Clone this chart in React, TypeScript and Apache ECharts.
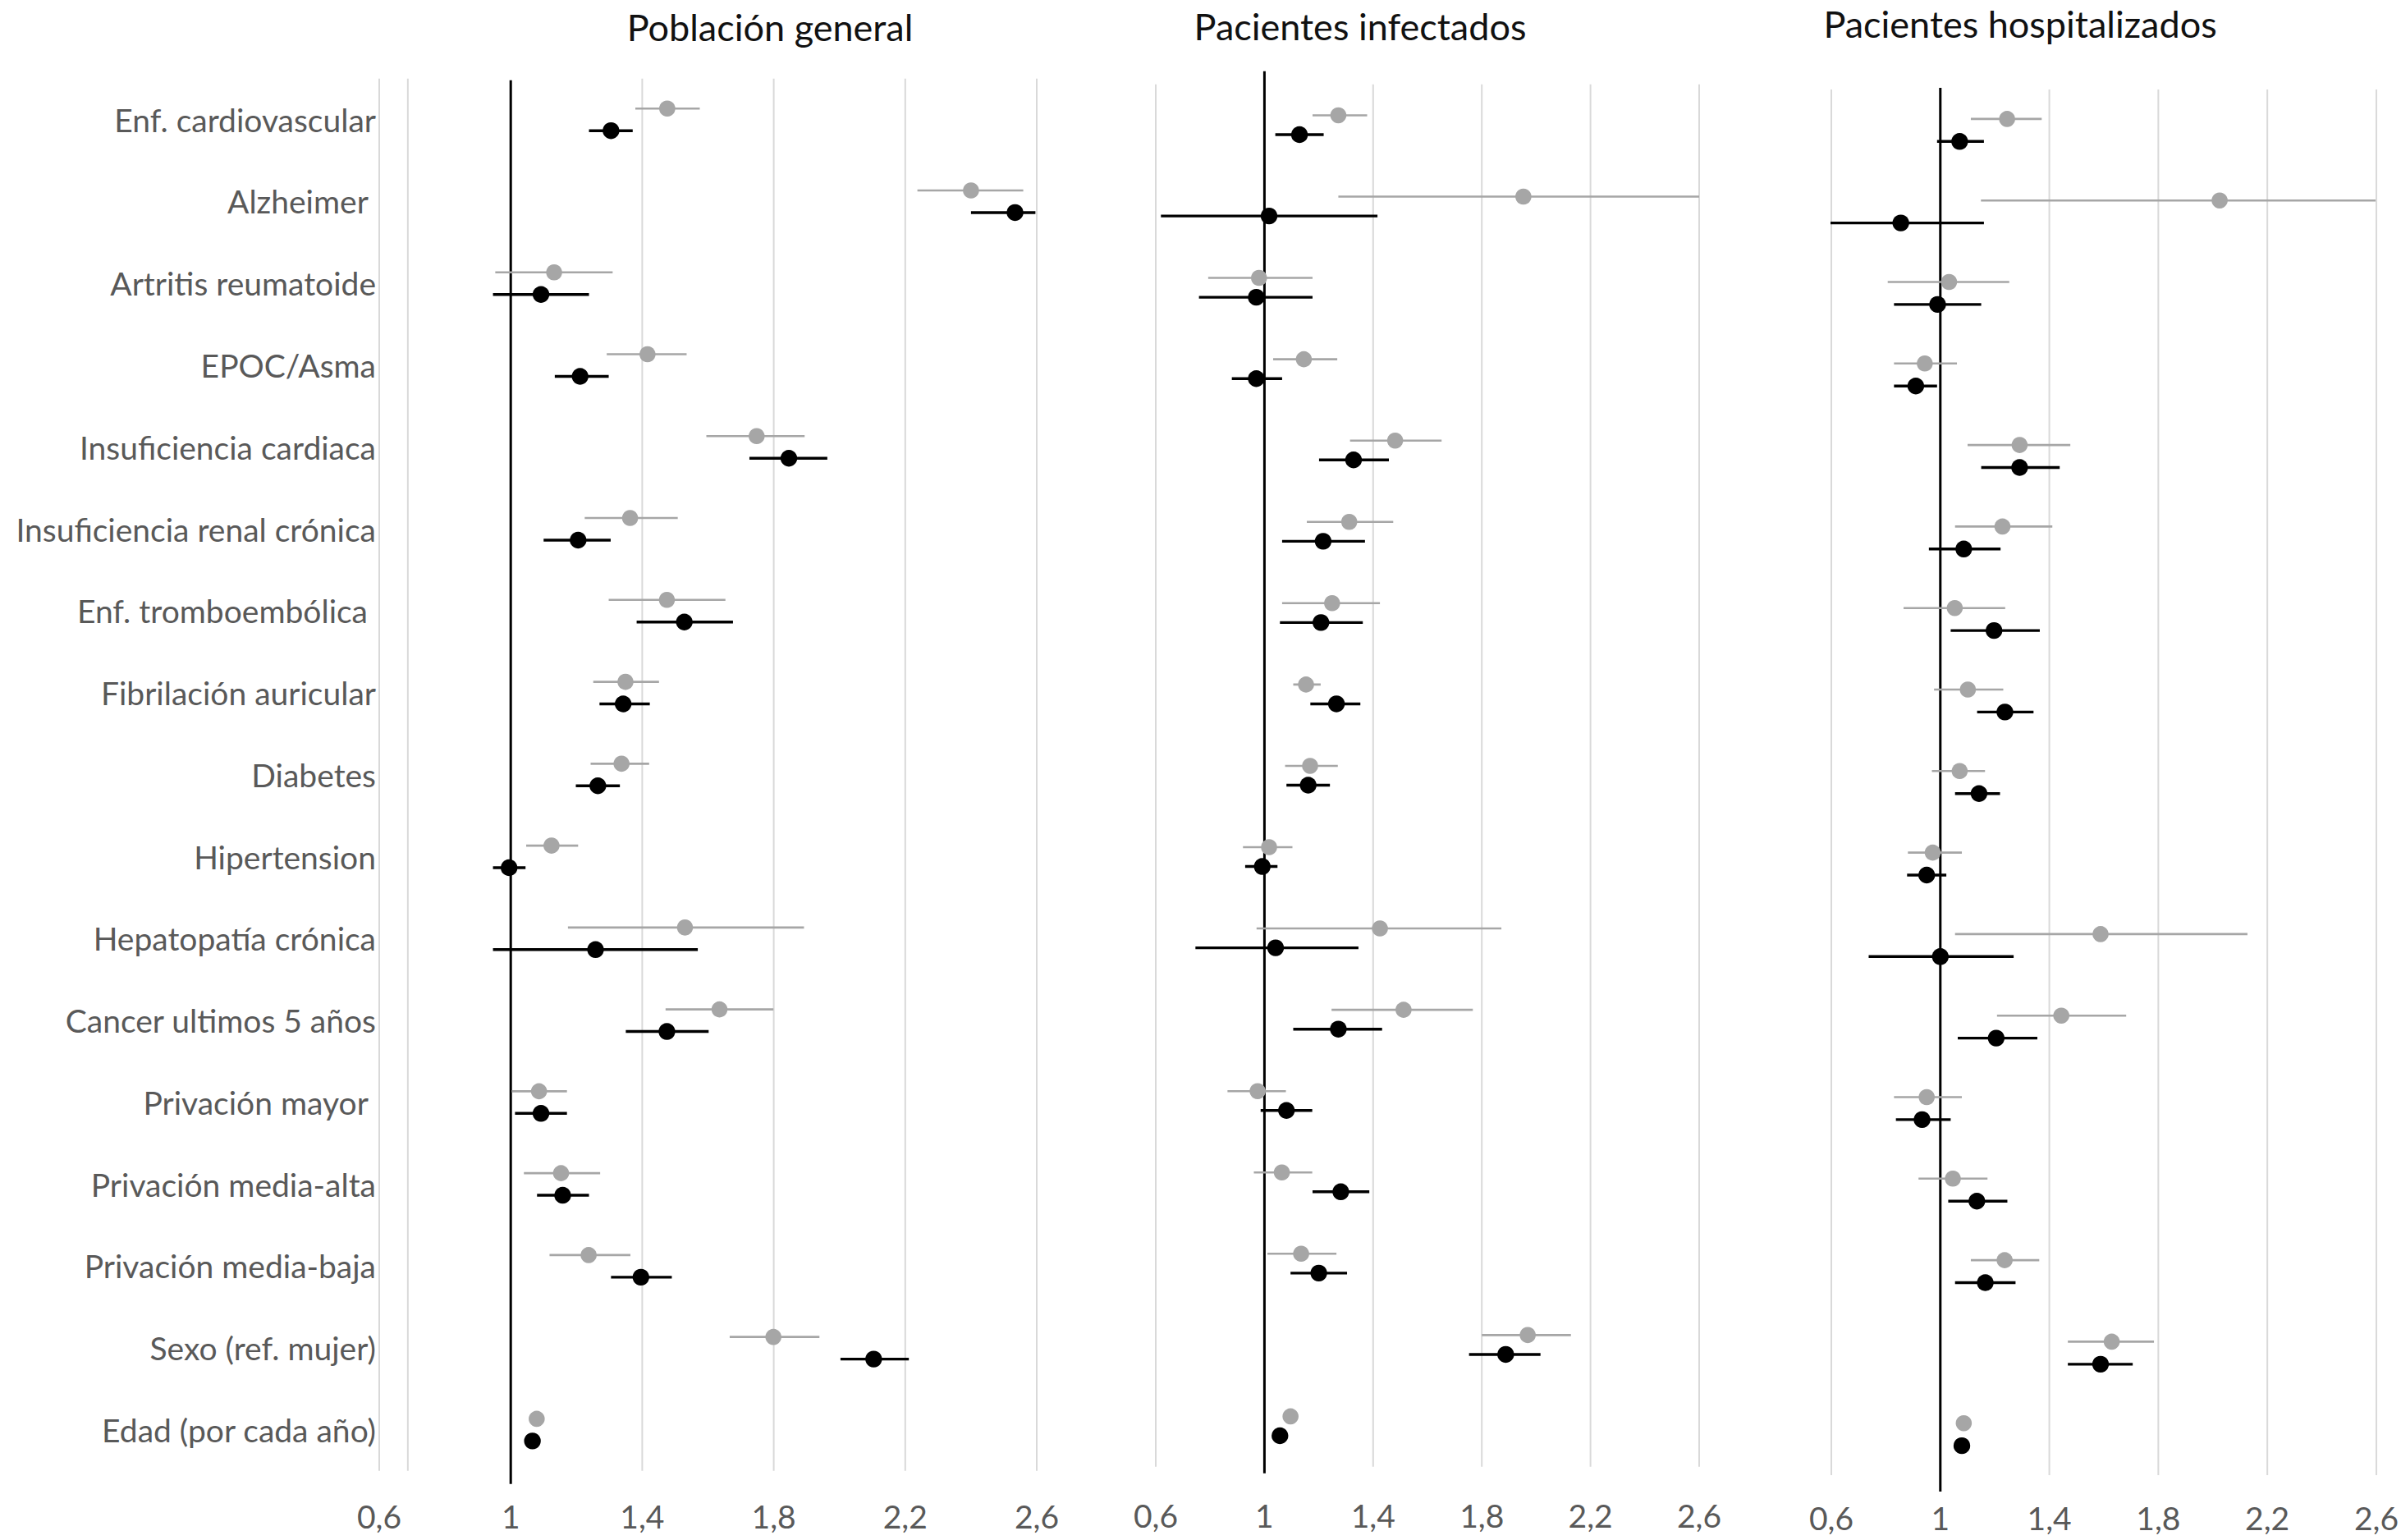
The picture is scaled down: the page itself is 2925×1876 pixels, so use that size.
import React, { useEffect, useRef } from "react";
import * as echarts from "echarts";

// ---------- DATA ----------
const categories = [
  "Enf. cardiovascular",
  "Alzheimer ",
  "Artritis reumatoide",
  "EPOC/Asma",
  "Insuficiencia cardiaca",
  "Insuficiencia renal crónica",
  "Enf. tromboembólica ",
  "Fibrilación auricular",
  "Diabetes",
  "Hipertension",
  "Hepatopatía crónica",
  "Cancer ultimos 5 años",
  "Privación mayor ",
  "Privación media-alta",
  "Privación media-baja",
  "Sexo (ref. mujer)",
  "Edad (por cada año)",
];

const panelTitles = ["Población general", "Pacientes infectados", "Pacientes hospitalizados"];
const xTicks = [0.6, 1, 1.4, 1.8, 2.2, 2.6];
const extraGridGeneral = [0.687];

// [estimate, lower, upper]
const generalGray = [
  [1.476, 1.379, 1.575], [2.4, 2.237, 2.559], [1.132, 0.953, 1.31], [1.416, 1.292, 1.535],
  [1.748, 1.595, 1.894], [1.363, 1.225, 1.508], [1.475, 1.298, 1.653], [1.349, 1.251, 1.451],
  [1.337, 1.243, 1.421], [1.124, 1.047, 1.205], [1.53, 1.174, 1.892], [1.635, 1.471, 1.799],
  [1.086, 1.003, 1.171], [1.153, 1.04, 1.272], [1.237, 1.118, 1.364], [1.799, 1.666, 1.939],
  [1.079, 1.072, 1.086],
];
const generalBlack = [
  [1.305, 1.238, 1.371], [2.534, 2.4, 2.596], [1.092, 0.946, 1.238], [1.211, 1.134, 1.298],
  [1.846, 1.726, 1.963], [1.205, 1.1, 1.304], [1.528, 1.383, 1.676], [1.342, 1.27, 1.423],
  [1.265, 1.198, 1.332], [0.995, 0.946, 1.045], [1.258, 0.946, 1.569], [1.475, 1.35, 1.602],
  [1.092, 1.013, 1.171], [1.158, 1.08, 1.238], [1.396, 1.305, 1.49], [2.104, 2.003, 2.211],
  [1.066, 1.06, 1.072],
];
const infectedGray = [
  [1.272, 1.177, 1.378], [1.953, 1.272, 2.6], [0.98, 0.793, 1.177], [1.145, 1.032, 1.268],
  [1.481, 1.315, 1.652], [1.312, 1.156, 1.474], [1.249, 1.065, 1.425], [1.153, 1.106, 1.207],
  [1.168, 1.076, 1.27], [1.017, 0.921, 1.103], [1.425, 0.971, 1.872], [1.512, 1.247, 1.767],
  [0.975, 0.864, 1.079], [1.064, 0.961, 1.176], [1.135, 1.011, 1.265], [1.969, 1.8, 2.128],
  [1.096, 1.09, 1.102],
];
const infectedBlack = [
  [1.129, 1.04, 1.218], [1.017, 0.619, 1.416], [0.97, 0.759, 1.177], [0.97, 0.88, 1.065],
  [1.328, 1.201, 1.458], [1.216, 1.065, 1.37], [1.208, 1.057, 1.362], [1.265, 1.169, 1.353],
  [1.161, 1.081, 1.241], [0.992, 0.929, 1.048], [1.041, 0.746, 1.346], [1.272, 1.106, 1.433],
  [1.081, 0.986, 1.176], [1.281, 1.177, 1.386], [1.2, 1.096, 1.304], [1.888, 1.753, 2.016],
  [1.057, 1.051, 1.063],
];
const hospitalGray = [
  [1.245, 1.112, 1.372], [2.025, 1.149, 2.597], [1.032, 0.807, 1.253], [0.943, 0.83, 1.061],
  [1.291, 1.1, 1.477], [1.228, 1.054, 1.411], [1.053, 0.865, 1.238], [1.101, 0.977, 1.231],
  [1.071, 0.969, 1.164], [0.972, 0.881, 1.079], [1.588, 1.054, 2.127], [1.444, 1.208, 1.682],
  [0.95, 0.83, 1.079], [1.046, 0.92, 1.173], [1.236, 1.112, 1.363], [1.629, 1.468, 1.784],
  [1.086, 1.08, 1.092],
];
const hospitalBlack = [
  [1.071, 0.988, 1.16], [0.855, 0.597, 1.16], [0.99, 0.83, 1.15], [0.91, 0.83, 0.988],
  [1.291, 1.15, 1.438], [1.086, 0.958, 1.221], [1.197, 1.038, 1.365], [1.237, 1.135, 1.342],
  [1.142, 1.054, 1.219], [0.95, 0.878, 1.022], [1.0, 0.737, 1.269], [1.205, 1.064, 1.356],
  [0.933, 0.837, 1.038], [1.134, 1.029, 1.246], [1.165, 1.054, 1.276], [1.588, 1.468, 1.706],
  [1.079, 1.073, 1.085],
];

// ---------- LAYOUT / STYLE ----------
const FONT = "Lato, 'Open Sans', sans-serif";
const GRAY = "#a6a6a6";
const BLACK = "#000000";
const GRIDLINE = "#d9d9d9";
const LABEL = "#595959";
const Y_MIN = -0.7;
const Y_MAX = 16.75;

const panels = [
  { left: 462, width: 801, top: 75.9, height: 1740.8, off: 0.135, labelMargin: 11, ref: [-0.48, 16.66], titleX: 938, titleY: 33,
    gray: generalGray, black: generalBlack, extra: extraGridGeneral },
  { left: 1408, width: 662, top: 82.9, height: 1728.6, off: 0.119, labelMargin: 15, ref: [-0.66, 16.58], titleX: 1657, titleY: 32,
    gray: infectedGray, black: infectedBlack, extra: [] as number[] },
  { left: 2231, width: 665, top: 89.1, height: 1732.8, off: 0.138, labelMargin: 8, ref: [-0.52, 16.7], titleX: 2461, titleY: 29,
    gray: hospitalGray, black: hospitalBlack, extra: [] as number[] },
];

function ciSeries(idx: number, rows: number[][], offset: number, color: string, lineWidth: number, r: number) {
  return {
    type: "custom",
    xAxisIndex: idx,
    yAxisIndex: idx,
    z: 5,
    silent: true,
    clip: false,
    encode: { x: [1, 2, 3], y: 0 },
    data: rows.map((d, i) => [i, d[0], d[1], d[2]]),
    renderItem: (_p: any, api: any) => {
      const y = api.value(0) + offset;
      const c = api.coord([api.value(1), y]);
      const l = api.coord([api.value(2), y]);
      const h = api.coord([api.value(3), y]);
      return {
        type: "group",
        children: [
          { type: "line", shape: { x1: l[0], y1: l[1], x2: h[0], y2: h[1] }, style: { stroke: color, lineWidth } },
          { type: "circle", shape: { cx: c[0], cy: c[1], r }, style: { fill: color } },
        ],
      };
    },
  };
}

function vLineSeries(idx: number, values: number[], y0: number, y1: number, color: string, lineWidth: number, z: number) {
  return {
    type: "custom",
    xAxisIndex: idx,
    yAxisIndex: idx,
    z,
    silent: true,
    clip: false,
    encode: { x: 0, y: 1 },
    data: values.map((v) => [v, y0]),
    renderItem: (_p: any, api: any) => {
      const a = api.coord([api.value(0), y0]);
      const b = api.coord([api.value(0), y1]);
      return { type: "line", shape: { x1: a[0], y1: a[1], x2: b[0], y2: b[1] }, style: { stroke: color, lineWidth } };
    },
  };
}

export default function App() {
  const ref = useRef<HTMLDivElement>(null);

  useEffect(() => {
    if (!ref.current) return;
    const chart = echarts.init(ref.current, null, { renderer: "svg" });

    const grid = panels.map((p) => ({ left: p.left, top: p.top, width: p.width, height: p.height, containLabel: false }));

    const xAxis = panels.map((p, i) => ({
      type: "value",
      gridIndex: i,
      min: 0.6,
      max: 2.6,
      splitLine: { show: false },
      axisLine: { show: false },
      axisTick: { show: false },
      axisLabel: {
        customValues: xTicks,
        margin: p.labelMargin,
        color: LABEL,
        fontSize: 39,
        fontFamily: FONT,
        formatter: (v: number) => String(Math.round(v * 10) / 10).replace(".", ","),
      },
    }));

    const yAxis = panels.map((p, i) => ({
      type: "value",
      gridIndex: i,
      inverse: true,
      min: Y_MIN,
      max: Y_MAX,
      splitLine: { show: false },
      axisLine: { show: false },
      axisTick: { show: false },
      axisLabel: i === 0
        ? {
            customValues: categories.map((_c, k) => k),
            margin: 4,
            color: LABEL,
            fontSize: 39,
            fontFamily: FONT,
            formatter: (v: number) => categories[Math.round(v)] ?? "",
          }
        : { show: false },
    }));

    const series: any[] = [];
    panels.forEach((p, i) => {
      const gridValues = xTicks.filter((v) => v !== 1).concat(p.extra);
      series.push(vLineSeries(i, gridValues, -0.5, 16.5, GRIDLINE, 2, 1));
      series.push(vLineSeries(i, [1], p.ref[0], p.ref[1], BLACK, 3, 2));
      series.push(ciSeries(i, p.gray, -p.off, GRAY, 2.6, 9.8));
      series.push(ciSeries(i, p.black, p.off, BLACK, 3.4, 10.2));
    });

    const graphic = panels.map((p, i) => ({
      type: "text",
      x: p.titleX,
      y: p.titleY,
      silent: true,
      style: {
        text: panelTitles[i],
        fill: "#111111",
        font: `45px ${FONT}`,
        fontSize: 45,
        fontFamily: FONT,
        align: "center",
        verticalAlign: "middle",
        textAlign: "center",
        textVerticalAlign: "middle",
      },
    }));

    chart.setOption({
      animation: false,
      backgroundColor: "#ffffff",
      textStyle: { fontFamily: FONT },
      grid,
      xAxis,
      yAxis,
      series,
      graphic,
    });

    return () => chart.dispose();
  }, []);

  return (
    <div
      ref={ref}
      style={{ position: "fixed", left: 0, top: 0, width: 2925, height: 1876, background: "#ffffff" }}
    />
  );
}
